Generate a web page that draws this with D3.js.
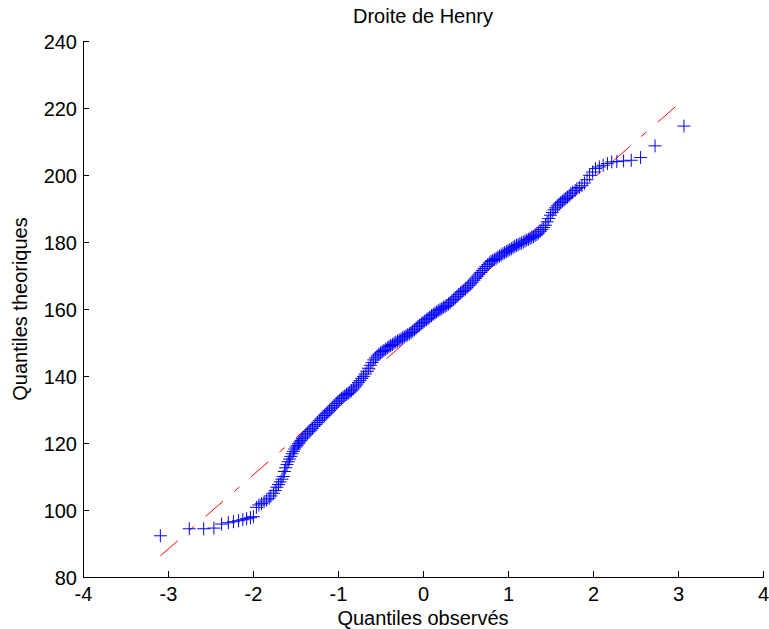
<!DOCTYPE html>
<html>
<head>
<meta charset="utf-8">
<script src="https://cdn.jsdelivr.net/npm/d3@7"></script>
<style>
  html, body { margin: 0; padding: 0; background: #fff; }
  svg { display: block; }
  text { font-family: "Liberation Sans", Arial, Helvetica, sans-serif; }
</style>
</head>
<body>
<svg id="chart" width="769" height="629"></svg>
<script>
// ---- data ----
const title = "Droite de Henry";
const xLabel = "Quantiles observés";
const yLabel = "Quantiles theoriques";
const xTicks = [-4, -3, -2, -1, 0, 1, 2, 3, 4];
const yTicks = [80, 100, 120, 140, 160, 180, 200, 220, 240];

// reference line endpoints [x, y]
const refLine = [[-3.09, 86.3], [3.07, 222.6]];

// lower tail points [x, y]
const lowerTail = [
  [-3.09, 92.3], [-2.75, 94.4], [-2.58, 94.4], [-2.46, 94.6], [-2.37, 95.8],
  [-2.29, 96.2], [-2.23, 96.5], [-2.17, 96.8], [-2.12, 97.1], [-2.075, 97.4],
  [-2.03, 97.7], [-1.995, 98.0], [-1.96, 100.8], [-1.93, 101.5], [-1.90, 101.9],
  [-1.87, 102.4], [-1.84, 103.0], [-1.81, 103.5], [-1.79, 104.2], [-1.76, 105.0],
  [-1.74, 105.8], [-1.72, 106.8]
];

// central body points [x, y]
const body = [
  [-1.70,107.6],[-1.68,108.4],[-1.66,109.2],[-1.645,110.0],[-1.63,111.5],[-1.615,112.6],
  [-1.60,113.6],[-1.585,114.4],[-1.57,115.2],[-1.555,116.0],[-1.54,116.8],[-1.525,117.5],
  [-1.51,118.2],[-1.495,118.8],[-1.48,119.3],[-1.465,119.8],[-1.45,120.3],[-1.435,120.8],
  [-1.42,121.3],[-1.40,121.8],[-1.38,122.4],[-1.36,122.9],[-1.34,123.4],[-1.32,123.9],
  [-1.30,124.4],[-1.28,125.0],[-1.26,125.5],[-1.24,126.1],[-1.22,126.7],[-1.20,127.2],
  [-1.18,127.7],[-1.16,128.2],[-1.14,128.7],[-1.12,129.2],[-1.10,129.7],[-1.08,130.2],
  [-1.06,130.7],[-1.04,131.2],[-1.02,131.8],[-1.00,132.3],[-0.98,132.8],[-0.96,133.3],
  [-0.94,133.7],[-0.92,134.1],[-0.90,134.5],[-0.88,134.8],[-0.86,135.2],[-0.84,135.6],
  [-0.82,136.1],[-0.80,136.7],[-0.78,137.3],[-0.76,138.0],[-0.74,138.6],[-0.72,139.3],
  [-0.70,139.9],[-0.68,140.6],[-0.66,141.4],[-0.64,142.3],[-0.62,143.2],[-0.60,144.0],
  [-0.58,144.8],[-0.56,145.4],[-0.54,146.0],[-0.52,146.5],[-0.50,146.9],[-0.48,147.3],
  [-0.46,147.6],[-0.44,148.0],[-0.42,148.4],[-0.40,148.8],[-0.38,149.1],[-0.36,149.4],
  [-0.34,149.8],[-0.32,150.1],[-0.30,150.4],[-0.28,150.7],[-0.26,151.0],[-0.24,151.4],
  [-0.22,151.7],[-0.20,152.0],[-0.18,152.3],[-0.16,152.6],[-0.14,153.0],[-0.12,153.4],
  [-0.10,153.8],[-0.08,154.3],[-0.06,154.8],[-0.04,155.2],[-0.02,155.6],[0.00,156.0],
  [0.02,156.4],[0.04,156.8],[0.06,157.2],[0.08,157.6],[0.10,158.0],[0.12,158.4],
  [0.14,158.8],[0.16,159.1],[0.18,159.5],[0.20,159.8],[0.22,160.1],[0.24,160.5],
  [0.26,160.8],[0.28,161.1],[0.30,161.5],[0.32,161.9],[0.34,162.4],[0.36,162.8],
  [0.38,163.3],[0.40,163.8],[0.42,164.3],[0.44,164.8],[0.46,165.2],[0.48,165.6],
  [0.50,166.0],[0.52,166.5],[0.54,167.0],[0.56,167.5],[0.58,168.0],[0.60,168.6],
  [0.62,169.2],[0.64,169.8],[0.66,170.4],[0.68,170.9],[0.70,171.5],[0.72,172.1],
  [0.74,172.7],[0.76,173.2],[0.78,173.7],[0.80,174.2],[0.82,174.5],[0.84,174.8],
  [0.86,175.1],[0.88,175.5],[0.90,175.8],[0.92,176.1],[0.94,176.5],[0.96,176.8],
  [0.98,177.1],[1.00,177.4],[1.02,177.7],[1.04,178.0],[1.06,178.4],[1.08,178.7],
  [1.10,179.0],[1.12,179.2],[1.14,179.5],[1.16,179.7],[1.18,180.0],[1.20,180.3],
  [1.22,180.6],[1.24,180.8],[1.26,181.1],[1.28,181.4],[1.30,181.6],[1.32,182.0],
  [1.34,182.3],[1.36,182.7],[1.38,183.2],[1.40,183.7],[1.42,184.3],[1.44,185.0],
  [1.46,186.0],[1.48,187.0],[1.50,188.0],[1.52,188.8],[1.54,189.6],[1.56,190.2],
  [1.58,190.8],[1.60,191.3],[1.62,191.8],[1.64,192.2],[1.66,192.6],[1.68,193.0],
  [1.70,193.4],[1.72,193.8],[1.74,194.4]
];

// upper tail points [x, y]
const upperTail = [
  [1.76,194.9],[1.79,195.4],[1.81,195.9],[1.84,196.3],[1.87,196.8],[1.90,197.6],
  [1.93,198.6],[1.96,199.9],[1.995,200.9],[2.03,201.9],[2.075,202.4],[2.12,202.9],
  [2.17,203.4],[2.22,203.9],[2.28,204.0],[2.36,204.2],[2.45,204.4],[2.56,205.2],
  [2.73,208.7],[3.07,214.6]
];

// ---- drawing ----
const svg = d3.select("#chart");
const x = d3.scaleLinear().domain([-4, 4]).range([83, 763]);
const y = d3.scaleLinear().domain([80, 240]).range([577, 41]);
const FONT = 20;
const fmt = d => String(d);  // plain hyphen-minus as in the reference

// axes
const gx = svg.append("g")
  .attr("transform", `translate(0,${y(80)})`)
  .call(d3.axisBottom(x).tickValues(xTicks).tickFormat(fmt)
        .tickSizeInner(-6).tickSizeOuter(0).tickPadding(10));
const gy = svg.append("g")
  .attr("transform", `translate(${x(-4)},0)`)
  .call(d3.axisLeft(y).tickValues(yTicks).tickFormat(fmt)
        .tickSizeInner(-6).tickSizeOuter(0).tickPadding(6));
[gx, gy].forEach(g => {
  g.attr("font-family", null).attr("font-size", null);
  g.selectAll("text").attr("font-size", FONT).attr("fill", "#000");
  g.selectAll("path,line").attr("stroke", "#000").attr("shape-rendering", "crispEdges");
});
gx.selectAll("text").attr("dy", "0.71em");
gy.selectAll("text").attr("dy", "0.35em");

// reference line (dash-dot)
svg.append("path")
  .datum(refLine)
  .attr("d", d3.line().x(d => x(d[0])).y(d => y(d[1])))
  .attr("fill", "none")
  .attr("stroke", "#ff0000")
  .attr("stroke-width", 1)
  .attr("stroke-dasharray", "23,15,7,15");

// markers
const pts = lowerTail.concat(body, upperTail);
const H = 6.5;
svg.append("g")
  .selectAll("path")
  .data(pts)
  .join("path")
  .attr("d", d => {
    const cx = x(d[0]), cy = y(d[1]);
    return `M${cx - H},${cy}H${cx + H}M${cx},${cy - H}V${cy + H}`;
  })
  .attr("fill", "none")
  .attr("stroke", "#0000ff")
  .attr("stroke-width", 1);

// labels
svg.append("text")
  .attr("x", (x(-4) + x(4)) / 2).attr("y", 23)
  .attr("text-anchor", "middle").attr("font-size", FONT)
  .text(title);
svg.append("text")
  .attr("x", (x(-4) + x(4)) / 2).attr("y", 625)
  .attr("text-anchor", "middle").attr("font-size", FONT)
  .text(xLabel);
svg.append("text")
  .attr("transform", `translate(27,${(y(80) + y(240)) / 2}) rotate(-90)`)
  .attr("text-anchor", "middle").attr("font-size", FONT)
  .text(yLabel);
</script>
</body>
</html>
